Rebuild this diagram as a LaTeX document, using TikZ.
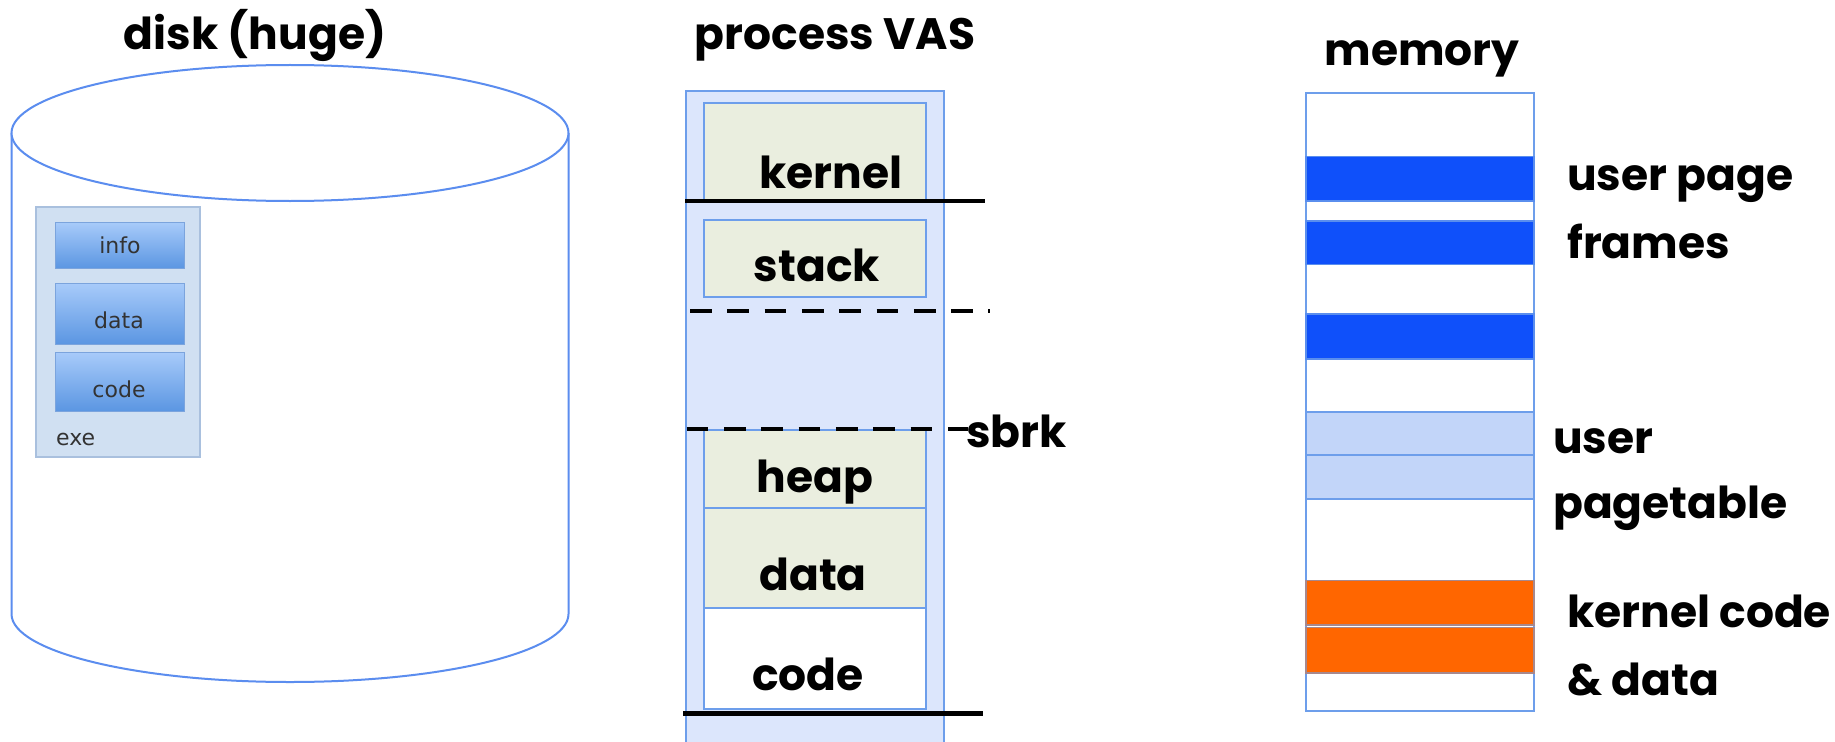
\documentclass[tikz,border=0pt]{standalone}
\usepackage{fontspec}
\setmainfont{Poppins}
\newfontfamily\smallsans{DejaVu Sans}
\definecolor{cylblue}{HTML}{5B8DEF}
\definecolor{boxblue}{HTML}{6D9EEB}
\definecolor{vasfill}{HTML}{DCE6FC}
\definecolor{segfill}{HTML}{EAEEDF}
\definecolor{exefill}{HTML}{D0E0F2}
\definecolor{exeedge}{HTML}{A9C0DE}
\definecolor{btntop}{HTML}{A8CBFA}
\definecolor{btnbot}{HTML}{5B96E2}
\definecolor{btnedge}{HTML}{7BA4DD}
\definecolor{ublue}{HTML}{0F50FA}
\definecolor{ptblue}{HTML}{C2D5F9}
\definecolor{korange}{HTML}{FF6600}
\definecolor{smalltext}{HTML}{333333}
\tikzset{
  big/.style={font=\fontsize{44}{50}\selectfont\bfseries, inner sep=0pt, anchor=base},
  biglft/.style={big, anchor=base west},
  small/.style={font=\smallsans\fontsize{22}{26}\selectfont, text=smalltext, inner sep=0pt, anchor=base},
  seg/.style={draw=boxblue, line width=2pt, fill=segfill, minimum width=221.7pt, anchor=north west, inner sep=0pt},
  bar/.style={line width=1.5pt, minimum width=228pt, anchor=north west, inner sep=0pt},
  btn/.style={draw=btnedge, line width=1pt, top color=btntop, bottom color=btnbot, minimum width=129.5pt, anchor=north west, inner sep=0pt},
  sep/.style={line width=4.5pt, black},
  sepdash/.style={sep, dash pattern=on 21.7pt off 15.6pt}
}
\begin{document}
\begin{tikzpicture}[x=1pt,y=-1pt]
\useasboundingbox (0,0) rectangle (1835,741);
\clip (0,0) rectangle (1835,741);
\fill[white] (0,0) rectangle (1835,741);

% ---------- disk ----------
\node[big] (tdisk) at (255,50) {disk (huge)};
\coordinate (cyltop) at (290,133);
\draw[cylblue, line width=2pt, fill=white] (11.5,133) -- (11.5,614) arc[start angle=180, end angle=360, x radius=278.5pt, y radius=68pt] -- (568.5,133);
\draw[cylblue, line width=2pt, fill=white] (cyltop) ellipse [x radius=278.5pt, y radius=68pt];

\node[draw=exeedge, line width=1.5pt, fill=exefill, minimum width=164pt, minimum height=250pt, anchor=north west, inner sep=0pt] (exe) at (35,206) {};
\node[btn, minimum height=46.5pt] (binfo) at (54.5,221.5) {};
\node[btn, minimum height=61pt] (bdata) at (54.5,282.5) {};
\node[btn, minimum height=59pt] (bcode) at (54.5,351.5) {};
\node[small] (linfo) at (120,253) {info};
\node[small] (ldata) at (119,328) {data};
\node[small] (lcode) at (119,397) {code};
\node[small, anchor=base west] (lexe) at (56,445) {exe};

% ---------- process VAS ----------
\node[big] (tvas) at (835,50) {process VAS};
\node[draw=boxblue, line width=2pt, fill=vasfill, minimum width=258.7pt, minimum height=660pt, anchor=north west, inner sep=0pt] (vas) at (684.6,89.6) {};
\node[seg, minimum height=99pt] (skernel) at (703.3,102) {};
\node[seg, minimum height=77pt] (sstack) at (703.3,219) {};
\node[seg, minimum height=77.5pt] (sheap) at (703.3,429) {};
\node[seg, minimum height=100.5pt] (sdata) at (703.3,506.5) {};
\node[seg, fill=white, minimum height=101pt] (scode) at (703.3,607) {};
\node[big] (lkernel) at (831,188) {kernel};
\node[big] (lstack) at (817,281) {stack};
\node[big] (lheap) at (815,492.5) {heap};
\node[big] (ldata2) at (813,590) {data};
\node[big] (lcode2) at (808,690) {code};

\coordinate (k1) at (685,201);  \coordinate (k2) at (985,201);
\coordinate (d1) at (690,311);  \coordinate (d2) at (990,311);
\coordinate (s1) at (686.7,429); \coordinate (s2) at (968,429);
\coordinate (b1) at (683,713.5); \coordinate (b2) at (983,713.5);
\draw[sep] (k1) -- (k2);
\draw[sepdash] (d1) -- (d2);
\draw[sepdash] (s1) -- (s2);
\draw[sep] (b1) -- (b2);
\node[biglft] (lsbrk) at (966,447) {sbrk};

% ---------- memory ----------
\node[big] (tmem) at (1422,66) {memory};
\node[draw=boxblue, line width=2pt, fill=white, minimum width=228pt, minimum height=618pt, anchor=north west, inner sep=0pt] (mem) at (1305,92) {};
\node[bar, draw=boxblue!80!ublue, fill=ublue, minimum height=44.3pt] (ub1) at (1305,155.7) {};
\node[bar, draw=boxblue!80!ublue, fill=ublue, minimum height=43.5pt] (ub2) at (1305,220) {};
\node[bar, draw=boxblue!80!ublue, fill=ublue, minimum height=45pt] (ub3) at (1305,313) {};
\node[bar, draw=boxblue, fill=ptblue, minimum height=43pt] (pt1) at (1305,411) {};
\node[bar, draw=boxblue, fill=ptblue, minimum height=44pt] (pt2) at (1305,454) {};
\node[bar, draw=boxblue!60!korange, fill=korange, minimum height=44.4pt] (ko1) at (1305,579.6) {};
\node[bar, draw=boxblue!60!korange, fill=korange, minimum height=45.5pt] (ko2) at (1305,626.5) {};

\node[biglft] (lup) at (1567,190.4) {user page};
\node[biglft] (lfr) at (1567,258) {frames};
\node[biglft] (lus) at (1553,453.5) {user};
\node[biglft] (lpt) at (1553,518.7) {pagetable};
\node[biglft] (lkc) at (1567,627) {kernel code};
\node[biglft] (lkd) at (1567,695) {\& data};
\end{tikzpicture}
\end{document}
